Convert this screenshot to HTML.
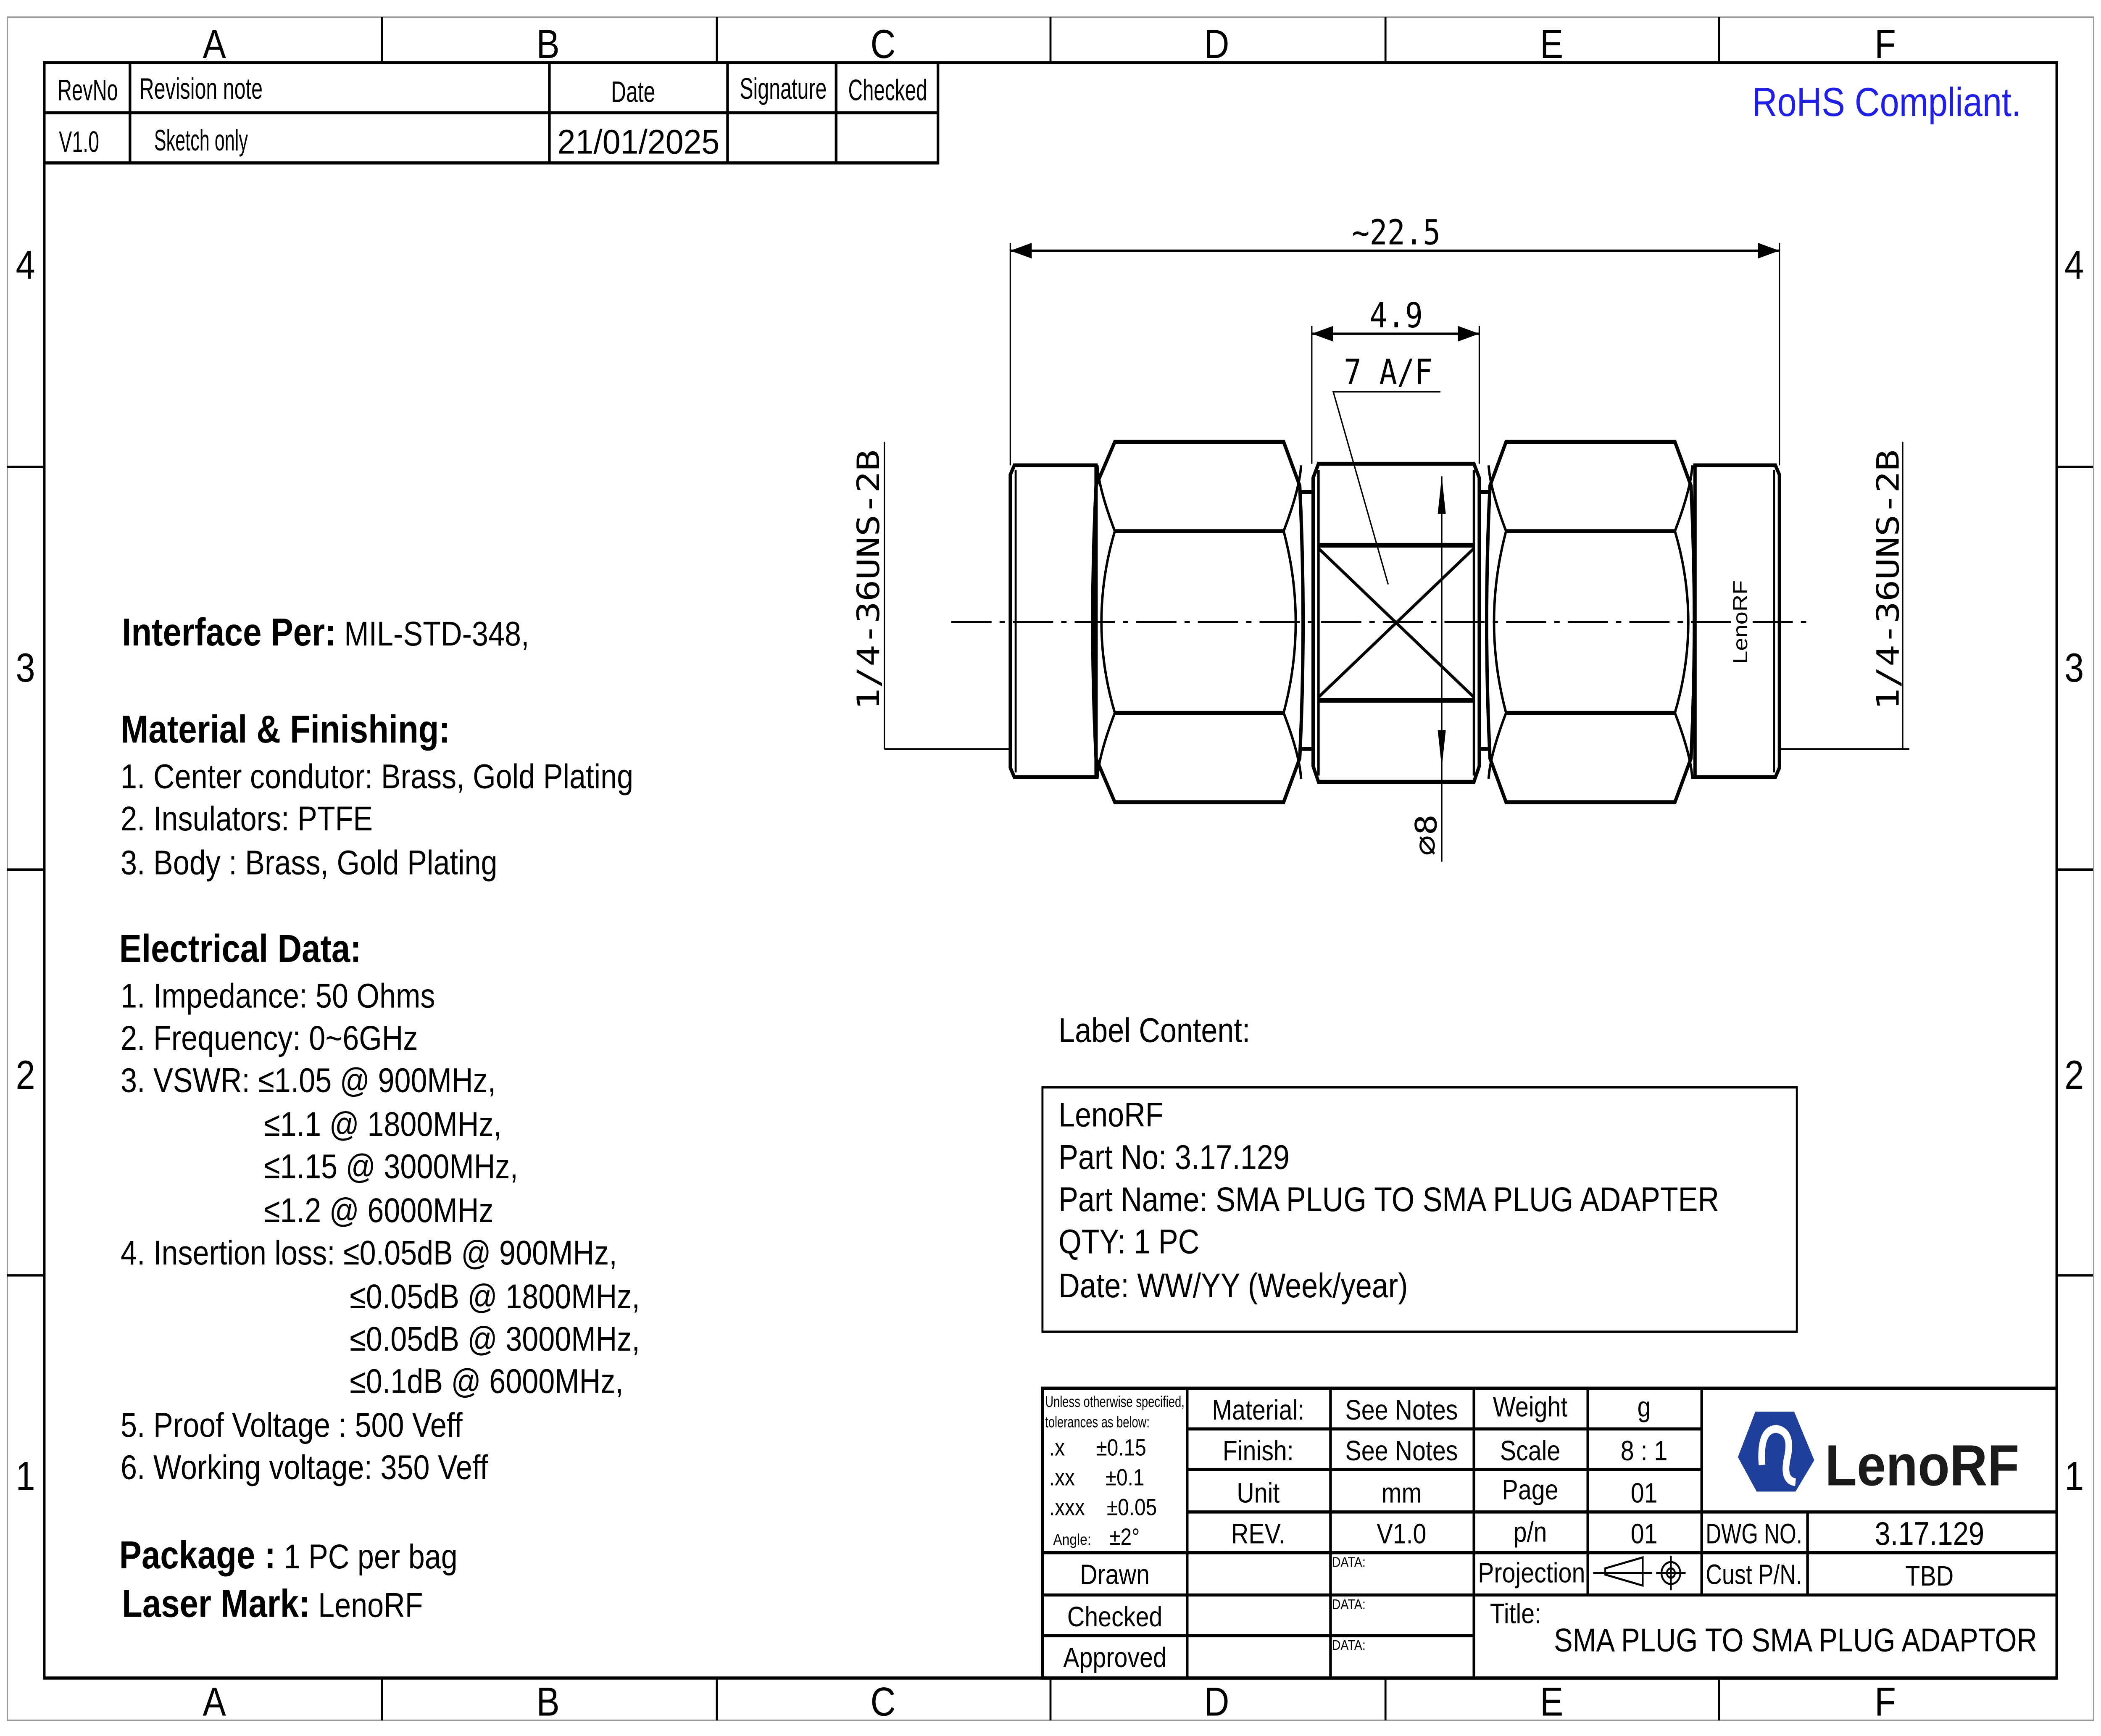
<!DOCTYPE html>
<html><head><meta charset="utf-8"><style>
html,body{margin:0;padding:0;background:#fff;width:100%;height:100%;overflow:hidden;}
svg{display:block;width:100vw;height:100vh;}
text{font-family:"Liberation Sans",sans-serif;fill:#000;}
.n{font-family:"Liberation Sans Narrow","Liberation Sans",sans-serif;}
</style></head><body>
<svg viewBox="0 0 1568 1108" preserveAspectRatio="none" xmlns="http://www.w3.org/2000/svg">
<rect x="0" y="0" width="1568" height="1108" fill="#fff"/>
<rect x="5.5" y="11" width="1557" height="1087" fill="none" stroke="#999" stroke-width="1"/>
<rect x="33" y="40" width="1502" height="1031" fill="none" stroke="#000" stroke-width="2"/>
<g stroke="#000" stroke-width="1.5">
<line x1="285" y1="11" x2="285" y2="40"/><line x1="535" y1="11" x2="535" y2="40"/><line x1="784" y1="11" x2="784" y2="40"/><line x1="1034" y1="11" x2="1034" y2="40"/><line x1="1283" y1="11" x2="1283" y2="40"/>
<line x1="285" y1="1071" x2="285" y2="1098"/><line x1="535" y1="1071" x2="535" y2="1098"/><line x1="784" y1="1071" x2="784" y2="1098"/><line x1="1034" y1="1071" x2="1034" y2="1098"/><line x1="1283" y1="1071" x2="1283" y2="1098"/>
<line x1="5" y1="298" x2="33" y2="298"/><line x1="5" y1="555" x2="33" y2="555"/><line x1="5" y1="814" x2="33" y2="814"/>
<line x1="1535" y1="298" x2="1562" y2="298"/><line x1="1535" y1="555" x2="1562" y2="555"/><line x1="1535" y1="814" x2="1562" y2="814"/>
</g>
<g font-size="26" text-anchor="middle" class="n">
<text x="160" y="37">A</text><text x="409" y="37">B</text><text x="659" y="37">C</text><text x="908" y="37">D</text><text x="1158" y="37">E</text><text x="1407" y="37">F</text>
<text x="160" y="1095">A</text><text x="409" y="1095">B</text><text x="659" y="1095">C</text><text x="908" y="1095">D</text><text x="1158" y="1095">E</text><text x="1407" y="1095">F</text>
<text x="19" y="178">4</text><text x="19" y="435">3</text><text x="19" y="695">2</text><text x="19" y="951">1</text>
<text x="1548" y="178">4</text><text x="1548" y="435">3</text><text x="1548" y="695">2</text><text x="1548" y="951">1</text>
</g>
<g stroke="#000" stroke-width="2" fill="none">
<rect x="33" y="40" width="667" height="64"/>
<line x1="33" y1="72" x2="700" y2="72"/>
<line x1="97" y1="40" x2="97" y2="104"/><line x1="410" y1="40" x2="410" y2="104"/><line x1="543" y1="40" x2="543" y2="104"/><line x1="624" y1="40" x2="624" y2="104"/>
</g>
<g font-size="19" class="n">
<text x="43" y="64" textLength="45" lengthAdjust="spacingAndGlyphs">RevNo</text>
<text x="104" y="63" textLength="92" lengthAdjust="spacingAndGlyphs">Revision note</text>
<text x="456" y="65" textLength="33" lengthAdjust="spacingAndGlyphs">Date</text>
<text x="552" y="63" textLength="65" lengthAdjust="spacingAndGlyphs">Signature</text>
<text x="633" y="64" textLength="59" lengthAdjust="spacingAndGlyphs">Checked</text>
<text x="44" y="97" textLength="30" lengthAdjust="spacingAndGlyphs">V1.0</text>
<text x="115" y="96" textLength="70" lengthAdjust="spacingAndGlyphs">Sketch only</text>
<text x="416" y="98" font-size="22" textLength="121" lengthAdjust="spacingAndGlyphs">21/01/2025</text>
</g>
<text x="1408" y="74" font-size="26" style="fill:#1f1fe6" text-anchor="middle">RoHS Compliant.</text>

<g font-size="22">
<text x="91" y="412"><tspan font-weight="bold" font-size="25">Interface Per:</tspan> MIL-STD-348,</text>
<text x="90" y="474" font-weight="bold" font-size="25">Material &amp; Finishing:</text>
<text x="90" y="503">1. Center condutor: Brass, Gold Plating</text>
<text x="90" y="530">2. Insulators: PTFE</text>
<text x="90" y="558">3. Body : Brass, Gold Plating</text>
<text x="89" y="614" font-weight="bold" font-size="25">Electrical Data:</text>
<text x="90" y="643">1. Impedance: 50 Ohms</text>
<text x="90" y="670">2. Frequency: 0~6GHz</text>
<text x="90" y="697">3. VSWR: ≤1.05 @ 900MHz,</text>
<text x="197" y="725">≤1.1 @ 1800MHz,</text>
<text x="197" y="752">≤1.15 @ 3000MHz,</text>
<text x="197" y="780">≤1.2 @ 6000MHz</text>
<text x="90" y="807">4. Insertion loss: ≤0.05dB @ 900MHz,</text>
<text x="261" y="835">≤0.05dB @ 1800MHz,</text>
<text x="261" y="862">≤0.05dB @ 3000MHz,</text>
<text x="261" y="889">≤0.1dB @ 6000MHz,</text>
<text x="90" y="917">5. Proof Voltage : 500 Veff</text>
<text x="90" y="944">6. Working voltage: 350 Veff</text>
<text x="89" y="1001"><tspan font-weight="bold" font-size="25">Package :</tspan> 1 PC per bag</text>
<text x="91" y="1032"><tspan font-weight="bold" font-size="25">Laser Mark:</tspan> LenoRF</text>
</g>

<text x="790" y="665" font-size="22">Label Content:</text>
<rect x="778" y="694" width="563" height="156" fill="none" stroke="#000" stroke-width="1.5"/>
<g font-size="22">
<text x="790" y="719">LenoRF</text>
<text x="790" y="746">Part No: 3.17.129</text>
<text x="790" y="773">Part Name: SMA PLUG TO SMA PLUG ADAPTER</text>
<text x="790" y="800">QTY: 1 PC</text>
<text x="790" y="828">Date: WW/YY  (Week/year)</text>
</g>

<g stroke="#000" fill="none">
<line x1="754" y1="155" x2="754" y2="297" stroke-width="1"/>
<line x1="1328" y1="155" x2="1328" y2="297" stroke-width="1"/>
<line x1="754" y1="160" x2="1328" y2="160" stroke-width="1.5"/>
<line x1="979" y1="208" x2="979" y2="296" stroke-width="1"/>
<line x1="1104" y1="208" x2="1104" y2="296" stroke-width="1"/>
<line x1="979" y1="213" x2="1104" y2="213" stroke-width="1.5"/>
<polyline points="1075,250 995,250 1036,373" stroke-width="1"/>
<line x1="1076" y1="304" x2="1076" y2="550" stroke-width="1"/>
<line x1="660" y1="282" x2="660" y2="478" stroke-width="1"/>
<line x1="660" y1="478" x2="754" y2="478" stroke-width="1"/>
<line x1="1420" y1="282" x2="1420" y2="478" stroke-width="1"/>
<line x1="1328" y1="478" x2="1425" y2="478" stroke-width="1"/>
<line x1="710" y1="397" x2="1352" y2="397" stroke-width="1.2" stroke-dasharray="30,6,4,6"/>

<g stroke-width="2.5">
<polygon points="757,297 818,297 818,496 757,496 754,490 754,303"/>
<line x1="758" y1="300" x2="758" y2="493" stroke-width="1.5"/>
<path d="M832,282 H958 L970,310 Q975,397 970,484 L958,512 H832 L818,484 Q813,397 818,310 Z"/>
<line x1="832" y1="339" x2="958" y2="339"/>
<line x1="832" y1="455" x2="958" y2="455"/>
<path d="M832,339 Q820,312 819,297 M958,339 Q970,312 971,297 M832,455 Q820,482 819,497 M958,455 Q970,482 971,497" stroke-width="1.8"/>
<path d="M832,339 Q812,397 832,455 M958,339 Q976,397 958,455" stroke-width="1.8"/>
<line x1="971" y1="314" x2="980" y2="314"/><line x1="971" y1="478" x2="980" y2="478"/>
<polygon points="980,305 984,296 1100,296 1104,305 1104,489 1100,499 984,499 980,489"/>
<line x1="984" y1="300" x2="984" y2="495" stroke-width="1.8"/>
<line x1="1100" y1="300" x2="1100" y2="495" stroke-width="1.8"/>
<line x1="984" y1="348" x2="1100" y2="348" stroke-width="3"/>
<line x1="984" y1="447" x2="1100" y2="447" stroke-width="3"/>
<line x1="984" y1="350" x2="1100" y2="445" stroke-width="2"/>
<line x1="1100" y1="350" x2="984" y2="445" stroke-width="2"/>
<line x1="1104" y1="314" x2="1113" y2="314"/><line x1="1104" y1="478" x2="1113" y2="478"/>
<path d="M1124,282 H1250 L1262,310 Q1267,397 1262,484 L1250,512 H1124 L1112,484 Q1107,397 1112,310 Z"/>
<line x1="1124" y1="339" x2="1250" y2="339"/>
<line x1="1124" y1="455" x2="1250" y2="455"/>
<path d="M1124,339 Q1112,312 1111,297 M1250,339 Q1262,312 1263,297 M1124,455 Q1112,482 1111,497 M1250,455 Q1262,482 1263,497" stroke-width="1.8"/>
<path d="M1124,339 Q1106,397 1124,455 M1250,339 Q1270,397 1250,455" stroke-width="1.8"/>
<polygon points="1265,297 1325,297 1328,303 1328,490 1325,496 1265,496"/>
<line x1="1324" y1="300" x2="1324" y2="493" stroke-width="1.5"/>
</g>
</g>
<g fill="#000">
<polygon points="754,160 770,155 770,165"/><polygon points="1328,160 1312,155 1312,165"/>
<polygon points="979,213 995,208 995,218"/><polygon points="1104,213 1088,208 1088,218"/>
<polygon points="1076,304 1073,328 1079,328"/><polygon points="1076,490 1073,466 1079,466"/>
</g>
<g>
<text x="1042" y="156" font-size="22" text-anchor="middle" style="font-family:'DejaVu Sans Mono',monospace">~22.5</text>
<text x="1042" y="209" font-size="22" text-anchor="middle" style="font-family:'DejaVu Sans Mono',monospace">4.9</text>
<text x="1036" y="245" font-size="22" text-anchor="middle" style="font-family:'DejaVu Sans Mono',monospace">7 A/F</text>
<text transform="translate(656,370) rotate(-90)" font-size="23" text-anchor="middle" style="font-family:'DejaVu Sans Mono',monospace">1/4-36UNS-2B</text>
<text transform="translate(1417,370) rotate(-90)" font-size="23" text-anchor="middle" style="font-family:'DejaVu Sans Mono',monospace">1/4-36UNS-2B</text>
<text transform="translate(1072,533) rotate(-90)" font-size="22" text-anchor="middle" style="font-family:'DejaVu Sans Mono',monospace">⌀8</text>
</g>
<text transform="translate(1304,397) rotate(-90)" font-size="15" text-anchor="middle">LenoRF</text>

<g stroke="#000" fill="none" stroke-width="2">
<rect x="778" y="886" width="757" height="185"/>
<line x1="886" y1="886" x2="886" y2="1071"/>
<line x1="993" y1="886" x2="993" y2="1071"/>
<line x1="1100" y1="886" x2="1100" y2="1071"/>
<line x1="1185" y1="886" x2="1185" y2="1018"/>
<line x1="1270" y1="886" x2="1270" y2="1018"/>
<line x1="1349" y1="965" x2="1349" y2="1018"/>
<line x1="886" y1="912" x2="1270" y2="912"/>
<line x1="886" y1="938" x2="1270" y2="938"/>
<line x1="886" y1="965" x2="1535" y2="965"/>
<line x1="778" y1="991" x2="1535" y2="991"/>
<line x1="778" y1="1018" x2="1535" y2="1018"/>
<line x1="778" y1="1044" x2="1100" y2="1044"/>
</g>
<g font-size="10" class="n">
<text x="780" y="898" textLength="104" lengthAdjust="spacingAndGlyphs">Unless otherwise specified,</text>
<text x="780" y="911" textLength="78" lengthAdjust="spacingAndGlyphs">tolerances as below:</text>
<text x="783" y="929" font-size="15">.x</text><text x="818" y="929" font-size="15">±0.15</text>
<text x="783" y="948" font-size="15">.xx</text><text x="825" y="948" font-size="15">±0.1</text>
<text x="783" y="967" font-size="15">.xxx</text><text x="826" y="967" font-size="15">±0.05</text>
<text x="786" y="986">Angle:</text><text x="828" y="986" font-size="15">±2°</text>
</g>
<g font-size="18" text-anchor="middle" class="n">
<text x="939" y="906">Material:</text><text x="1046" y="906">See Notes</text><text x="1142" y="904">Weight</text><text x="1227" y="904">g</text>
<text x="939" y="932">Finish:</text><text x="1046" y="932">See Notes</text><text x="1142" y="932">Scale</text><text x="1227" y="932">8 : 1</text>
<text x="939" y="959">Unit</text><text x="1046" y="959">mm</text><text x="1142" y="957">Page</text><text x="1227" y="959">01</text>
<text x="939" y="985">REV.</text><text x="1046" y="985">V1.0</text><text x="1142" y="984">p/n</text><text x="1227" y="985">01</text>
<text x="1309" y="985" textLength="72" lengthAdjust="spacingAndGlyphs">DWG NO.</text><text x="1440" y="986" font-size="21">3.17.129</text>
<text x="832" y="1011">Drawn</text><text x="1143" y="1010">Projection</text>
<text x="1309" y="1011" textLength="72" lengthAdjust="spacingAndGlyphs">Cust P/N.</text><text x="1440" y="1012">TBD</text>
<text x="832" y="1038">Checked</text><text x="832" y="1064">Approved</text>
</g>
<g font-size="9" class="n"><text x="994" y="1000">DATA:</text><text x="994" y="1027">DATA:</text><text x="994" y="1053">DATA:</text></g>
<text x="1112" y="1036" font-size="18" class="n">Title:</text>
<text x="1340" y="1054" font-size="21" text-anchor="middle">SMA PLUG TO SMA PLUG ADAPTOR</text>
<g stroke="#000" fill="none" stroke-width="1.3">
<polygon points="1198,1001 1226,994 1226,1012 1198,1005"/>
<line x1="1189" y1="1004" x2="1233" y2="1004"/>
<circle cx="1247" cy="1004" r="7"/><circle cx="1247" cy="1004" r="3"/>
<line x1="1236" y1="1004" x2="1258" y2="1004"/><line x1="1247" y1="993" x2="1247" y2="1015"/>
</g>
<polygon points="1310,901 1339,901 1354,932 1340,952 1311,952 1297,930" fill="#1f3f9a"/>
<path d="M1315,935 Q1313,912 1326,912 Q1338,914 1334,930 Q1330,945 1340,946" stroke="#fff" stroke-width="5" fill="none"/>
<text x="1362" y="948" font-size="37" font-weight="bold" style="fill:#1a1a1a" textLength="145" lengthAdjust="spacingAndGlyphs">LenoRF</text>
</svg>
</body></html>
